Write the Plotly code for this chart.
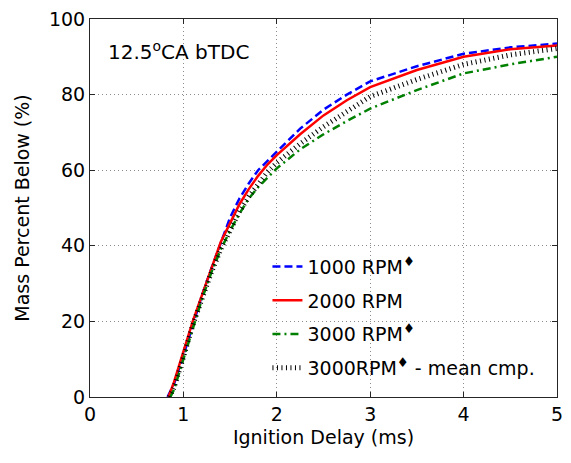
import plotly.graph_objects as go

# Ignition delay (ms) grid shared by the curves
delay_1000 = [0.83, 0.9, 1.0, 1.1, 1.2, 1.3, 1.4, 1.5, 1.6, 1.7, 1.8, 1.9, 2.0, 2.25, 2.5, 2.75, 3.0, 3.5, 4.0, 4.5, 5.0]
mass_1000 = [0, 3.5, 11, 19, 27, 34, 41, 47.5, 52.5, 56.5, 60, 62.5, 65, 71, 76, 80, 83.5, 87.5, 90.8, 92.5, 93.5]

delay_2000 = [0.84, 0.9, 1.0, 1.1, 1.2, 1.3, 1.4, 1.5, 1.6, 1.7, 1.8, 1.9, 2.0, 2.25, 2.5, 2.75, 3.0, 3.5, 4.0, 4.5, 5.0]
mass_2000 = [0, 4, 12, 20, 27, 34, 41, 46, 51, 55, 58.5, 61.5, 64, 69.5, 74.5, 78.5, 82, 86.5, 90, 92, 93]

delay_3000 = [0.86, 0.9, 1.0, 1.1, 1.2, 1.3, 1.4, 1.5, 1.6, 1.7, 1.8, 1.9, 2.0, 2.25, 2.5, 2.75, 3.0, 3.5, 4.0, 4.5, 5.0]
mass_3000 = [0, 2, 10, 18, 26, 33, 39, 44, 48.5, 52.5, 55.5, 58, 60.5, 65.5, 69.5, 73, 76.3, 81.2, 85.6, 88, 90]

delay_3000m = [0.85, 0.9, 1.0, 1.1, 1.2, 1.3, 1.4, 1.5, 1.6, 1.7, 1.8, 1.9, 2.0, 2.25, 2.5, 2.75, 3.0, 3.5, 4.0, 4.5, 5.0]
mass_3000m = [0, 2.5, 10.5, 19, 26, 33, 39, 44, 49, 53, 56.5, 59.5, 62, 67, 71.5, 75.5, 79.5, 84, 88, 90.5, 92.2]

names = ["1000 RPM<sup>♦</sup>", "2000 RPM", "3000 RPM<sup>♦</sup>", "3000RPM<sup>♦</sup> - mean cmp."]
x_ticks = [0, 1, 2, 3, 4, 5]
y_ticks = [0, 20, 40, 60, 80, 100]

FONT = "DejaVu Sans"
FS = 19

fig = go.Figure()
fig.add_trace(go.Scatter(x=delay_1000, y=mass_1000, mode="lines", name=names[0], legendgroup="g1",
                         line=dict(color="#0000ff", width=2.5, dash="8px,4px")))
fig.add_trace(go.Scatter(x=delay_2000, y=mass_2000, mode="lines", name=names[1], legendgroup="g2",
                         line=dict(color="#ff0000", width=2.5)))
fig.add_trace(go.Scatter(x=delay_3000, y=mass_3000, mode="lines", name=names[2], legendgroup="g3",
                         line=dict(color="#008000", width=2.5, dash="8px,4px,2px,4px")))
fig.add_trace(go.Scatter(x=delay_3000m, y=mass_3000m, mode="lines", name=names[3], legendgroup="g4",
                         line=dict(color="#000000", width=5, dash="1px,3.5px")))

axis_common = dict(
    showline=True, linecolor="#262626", linewidth=1, mirror="ticks",
    ticks="inside", ticklen=5, tickcolor="#262626",
    showgrid=True, gridcolor="#8c8c8c", gridwidth=1, griddash="1px,3px",
    zeroline=False, tickfont=dict(family=FONT, size=FS, color="#000"),
)

fig.update_xaxes(range=[0, 5], tickvals=x_ticks, **axis_common,
                 title=dict(text="Ignition Delay (ms)", font=dict(family=FONT, size=FS, color="#000"), standoff=6))
fig.update_yaxes(range=[0, 100], tickvals=y_ticks, **axis_common,
                 title=dict(text="Mass Percent Below (%)", font=dict(family=FONT, size=FS, color="#000"), standoff=14))

fig.add_annotation(x=0.035, y=0.915, xref="paper", yref="paper", xanchor="left", yanchor="middle",
                   text="12.5<sup>o</sup>CA bTDC", showarrow=False,
                   font=dict(family=FONT, size=20, color="#000"))

fig.update_layout(
    width=571, height=463,
    margin=dict(l=90, r=8, t=17, b=66),
    paper_bgcolor="white", plot_bgcolor="white",
    showlegend=True,
    legend=dict(x=0.38, y=0.395, xanchor="left", yanchor="top", bgcolor="rgba(0,0,0,0)",
                font=dict(family=FONT, size=FS, color="#000"), itemwidth=30, tracegroupgap=6),
)

fig.write_html("out.html")
